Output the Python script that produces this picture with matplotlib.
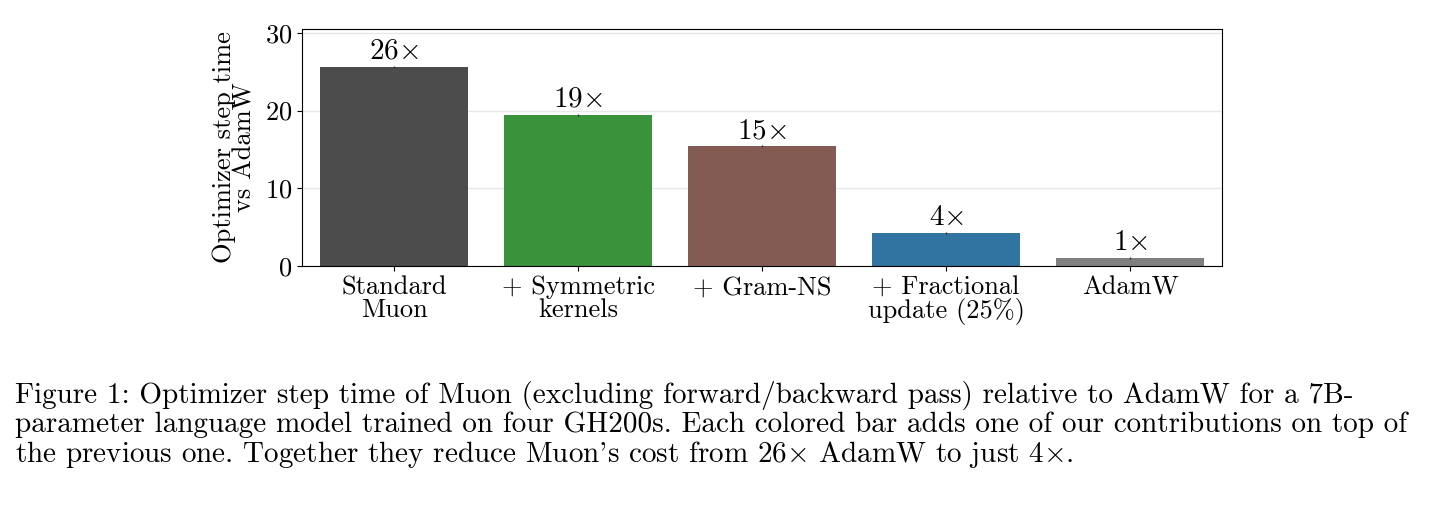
import matplotlib
matplotlib.use("Agg")
import matplotlib.pyplot as plt

categories = ["Standard\nMuon", "+ Symmetric\nkernels", "+ Gram-NS", "+ Fractional\nupdate (25%)", "AdamW"]
values = [25.6, 19.4, 15.4, 4.2, 1.0]
labels = ["26", "19", "15", "4", "1"]
colors = ["#4c4c4c", "#3a923a", "#845b53", "#3274a1", "#7f7f7f"]

plt.rcParams['font.family'] = ['cmr10', 'DejaVu Serif']
plt.rcParams['mathtext.fontset'] = 'cm'
plt.rcParams['axes.formatter.use_mathtext'] = True

fig = plt.figure(figsize=(14.4, 5.14), dpi=100)
ax = fig.add_axes([302/1440, 1-266/514, 920/1440, 237/514])
x = range(len(values))
ax.bar(x, values, width=0.8, color=colors, zorder=2)
ax.errorbar(x, values, yerr=0.12, fmt='none', ecolor='#333333', lw=1, zorder=3)
for xi, v, l in zip(x, values, labels):
    ax.text(xi, v + 0.3, l + r"$\times$", ha='center', va='bottom', fontsize=21)
ax.set_ylim(0, 30.5)
ax.set_yticks([0, 10, 20, 30])
ax.set_xlim(-0.5, 4.5)
ax.yaxis.grid(True, color='#dddddd', lw=1, zorder=2.5, alpha=0.7)
ax.set_xticks(list(x))
ax.set_xticklabels(categories, fontsize=19, linespacing=0.95)
ax.tick_params(axis='y', labelsize=19)
ax.set_ylabel("Optimizer step time\nvs AdamW", fontsize=19, linespacing=0.85, labelpad=6)
caption = ("Figure 1: Optimizer step time of Muon (excluding forward/backward pass) relative to AdamW for a 7B-\n"
           "parameter language model trained on four GH200s. Each colored bar adds one of our contributions on top of\n"
           "the previous one. Together they reduce Muon's cost from 26$\\times$ AdamW to just 4$\\times$.")
fig.text(15/1440, 1-381/514, caption, ha='left', va='top', fontsize=21, linespacing=1.05)
fig.savefig("out.png", dpi=100)
